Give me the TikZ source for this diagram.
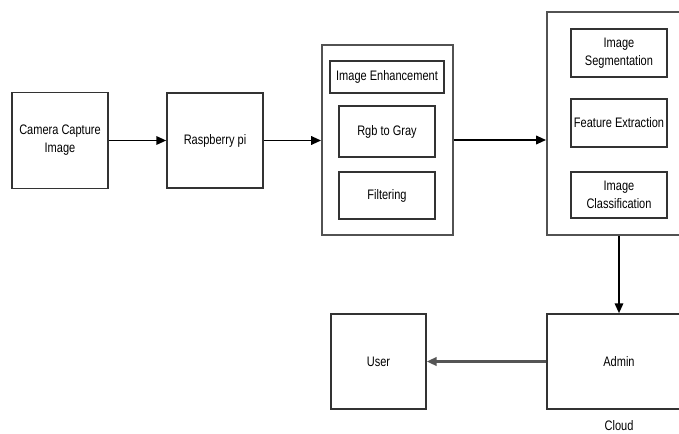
\documentclass[tikz,border=0pt]{standalone}
\usepackage{fontspec}
\newfontfamily\diagfont[FakeStretch=0.8]{Liberation Sans}
\usetikzlibrary{arrows.meta,calc}
\definecolor{boxgray}{HTML}{333333}
\definecolor{linkgray}{HTML}{555555}

\begin{document}
\begin{tikzpicture}[x=0.025cm, y=-0.025cm,
    block/.style={draw=boxgray, line width=1.1pt, minimum width=#1*0.025cm, minimum height=95*0.025cm, align=center, inner sep=2pt},
    group/.style={draw=boxgray!85, line width=1.3pt, inner sep=0pt},
    sub/.style={draw=boxgray, line width=1.1pt, minimum width=96*0.025cm, align=center, inner sep=2pt},
    arrow/.style={-{Triangle[length=7pt,width=6pt]}, line width=1.3pt},
    every node/.style={font=\diagfont\fontsize{9.8}{12.8}\selectfont},
]
\useasboundingbox (0,0) rectangle (679,434);
\clip (0,0) rectangle (679,434);

% capture and board
\node[block=96, minimum height=96*0.025cm] (cam) at (60,140.5) {Camera Capture\\Image};
\node[block=96] (rpi) at (215,140.5) {Raspberry pi};

% enhancement stage
\node[group, minimum width=131*0.025cm, minimum height=190*0.025cm] (enh) at (387.5,140) {};
\node[sub, minimum width=114*0.025cm, minimum height=32*0.025cm] (ie) at (387,77) {Image Enhancement};
\node[sub, minimum height=51*0.025cm] (rgb) at (387,131.5) {Rgb to Gray};
\node[sub, minimum height=47*0.025cm] (filt) at (387,195.5) {Filtering};

% processing stage
\node[group, minimum width=144*0.025cm, minimum height=223*0.025cm] (proc) at (619,123.5) {};
\node[sub, minimum height=48*0.025cm] (seg) at (619,53) {Image\\Segmentation};
\node[sub, minimum height=48*0.025cm] (feat) at (619,123) {Feature Extraction};
\node[sub, minimum height=46*0.025cm] (cls) at (619,195) {Image\\Classification};

% cloud side
\node[block=144] (admin) at (619,361.5) {Admin};
\node[block=95] (user) at (378.5,361.5) {User};
\node (cloud) at (619,426) {Cloud};

\draw[arrow] (cam.east) -- (rpi.west);
\draw[arrow] (rpi.east) -- (rpi.east -| enh.west);
\draw[arrow] (enh.east) -- (enh.east -| proc.west);
\draw[arrow] (proc.south) -- (admin.north);
\draw[arrow, draw=linkgray, line width=2pt] (admin.west) -- (user.east);
\end{tikzpicture}
\end{document}
